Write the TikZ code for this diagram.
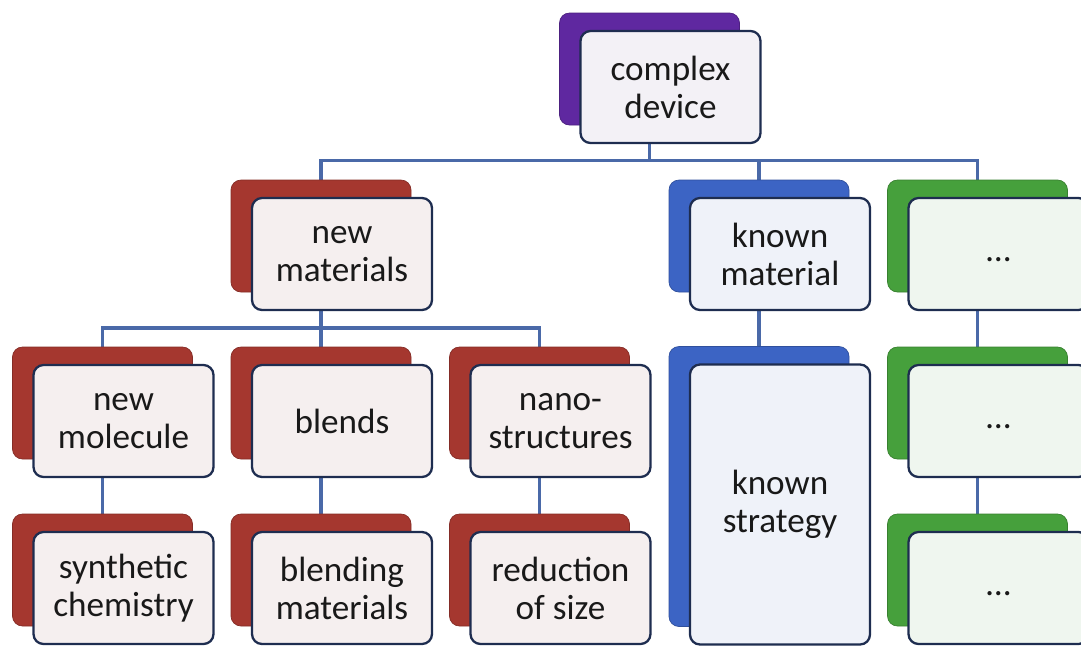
\documentclass[tikz,border=0pt]{standalone}
\usepackage{fontspec}
\setmainfont{Carlito}
\usepackage{tikz}
\usetikzlibrary{positioning}
\pgfdeclarelayer{background}
\pgfsetlayers{background,main}

\definecolor{redback}{HTML}{A5372F}
\definecolor{blueback}{HTML}{3C64C4}
\definecolor{greenback}{HTML}{46A03C}
\definecolor{purpleback}{HTML}{5F28A0}
\definecolor{redface}{HTML}{F5EFEF}
\definecolor{blueface}{HTML}{EFF2F9}
\definecolor{greenface}{HTML}{EFF6EF}
\definecolor{purpleface}{HTML}{F3F1F6}
\definecolor{edgeline}{HTML}{1E2D50}
\definecolor{linkline}{HTML}{4A69A8}

\tikzstyle{back} = [rectangle, rounded corners=0.2cm, minimum width=3.6cm, minimum height=2.24cm, inner sep=0pt]
\tikzstyle{backred} = [back, fill=redback, draw=redback!80!black]
\tikzstyle{backblue} = [back, fill=blueback, draw=blueback!80!black]
\tikzstyle{backgreen} = [back, fill=greenback, draw=greenback!80!black]
\tikzstyle{backpurple} = [back, fill=purpleback, draw=purpleback!80!black]
\tikzstyle{face} = [rectangle, rounded corners=0.2cm, minimum width=3.6cm, minimum height=2.24cm, inner sep=0pt, draw=edgeline, line width=1.3pt, align=center, text=black!90, font=\fontsize{20}{21.6}\selectfont]
\tikzstyle{tall} = [minimum height=5.6cm]
\tikzstyle{link} = [linkline, line width=2.2pt]

\begin{document}
\begin{tikzpicture}[node distance=3.34cm]
	\useasboundingbox (0,0) rectangle (21.62,-12.92);
	% coloured cards behind
	\node (matB) [backred] at (6.42,-4.72) {};
	\node (topB) [backpurple, above of=matB, xshift=6.57cm] {};
	\node (blendB) [backred, below of=matB] {};
	\node (molB) [backred, left of=blendB, xshift=-1.03cm] {};
	\node (nanoB) [backred, right of=blendB, xshift=1.03cm] {};
	\node (synB) [backred, below of=molB] {};
	\node (mixB) [backred, below of=blendB] {};
	\node (sizeB) [backred, below of=nanoB] {};
	\node (knownB) [backblue, right of=matB, xshift=5.42cm] {};
	\node (stratB) [backblue, tall, below of=knownB, yshift=-1.67cm] {};
	\node (dotsaB) [backgreen, right of=knownB, xshift=1.03cm] {};
	\node (dotsbB) [backgreen, below of=dotsaB] {};
	\node (dotscB) [backgreen, below of=dotsbB] {};
	% white cards in front
	\node (top) [face, fill=purpleface] at ([shift={(0.42,-0.36)}]topB) {complex\\device};
	\node (mat) [face, fill=redface] at ([shift={(0.42,-0.36)}]matB) {new\\materials};
	\node (mol) [face, fill=redface] at ([shift={(0.42,-0.36)}]molB) {new\\molecule};
	\node (blend) [face, fill=redface] at ([shift={(0.42,-0.36)}]blendB) {blends};
	\node (nano) [face, fill=redface] at ([shift={(0.42,-0.36)}]nanoB) {nano-\\structures};
	\node (syn) [face, fill=redface] at ([shift={(0.42,-0.36)}]synB) {synthetic\\chemistry};
	\node (mix) [face, fill=redface] at ([shift={(0.42,-0.36)}]mixB) {blending\\materials};
	\node (size) [face, fill=redface] at ([shift={(0.42,-0.36)}]sizeB) {reduction\\of size};
	\node (known) [face, fill=blueface] at ([shift={(0.42,-0.36)}]knownB) {known\\material};
	\node (strat) [face, tall, fill=blueface] at ([shift={(0.42,-0.36)}]stratB) {known\\strategy};
	\node (dotsa) [face, fill=greenface] at ([shift={(0.42,-0.36)}]dotsaB) {\raisebox{-0.3cm}{…}};
	\node (dotsb) [face, fill=greenface] at ([shift={(0.42,-0.36)}]dotsbB) {\raisebox{-0.3cm}{…}};
	\node (dotsc) [face, fill=greenface] at ([shift={(0.42,-0.36)}]dotscB) {\raisebox{-0.3cm}{…}};
	% connectors
	\begin{pgfonlayer}{background}
		\draw [link] (topB.center) -- ++(0,-1.83) coordinate (bus) -| (matB.center);
		\draw [link] (bus) -| (knownB.center);
		\draw [link] (bus) -| (dotsaB.center);
		\draw [link] (matB.center) -- ++(0,-1.84) coordinate (bustwo) -| (molB.center);
		\draw [link] (bustwo) -| (blendB.center);
		\draw [link] (bustwo) -| (nanoB.center);
		\draw [link] (molB) -- (synB);
		\draw [link] (blendB) -- (mixB);
		\draw [link] (nanoB) -- (sizeB);
		\draw [link] (knownB) -- (stratB);
		\draw [link] (dotsaB) -- (dotsbB);
		\draw [link] (dotsbB) -- (dotscB);
	\end{pgfonlayer}
\end{tikzpicture}
\end{document}
